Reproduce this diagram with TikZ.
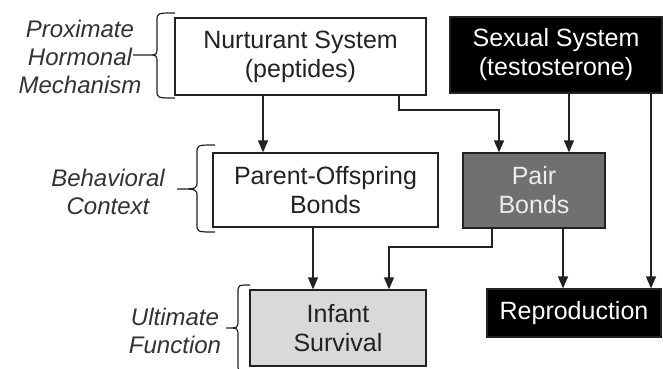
\documentclass[tikz,border=0pt]{standalone}
\usepackage{fontspec}
\setmainfont{Liberation Sans}
\usetikzlibrary{arrows.meta}
\definecolor{ink}{HTML}{222222}
\definecolor{midgray}{HTML}{707070}
\definecolor{lightgray}{HTML}{D9D9D9}
\definecolor{labelgray}{HTML}{333333}
\tikzset{
  box/.style={draw=ink, line width=1.3pt, inner sep=0pt, align=center, text=ink,
    font=\fontsize{25}{29}\selectfont},
  whitebox/.style={box, fill=white},
  blackbox/.style={box, fill=black, text=white},
  graybox/.style={box, fill=midgray, text=white!93!black},
  lightbox/.style={box, fill=lightgray},
  lbl/.style={align=center, inner sep=0pt, text=labelgray, font=\fontsize{24}{28}\selectfont\itshape},
  arr/.style={draw=ink, line width=1.3pt, -{Triangle[length=12pt,width=10pt]}},
  bracestyle/.style={draw=ink, line width=1.2pt}
}
\begin{document}
\begin{tikzpicture}[x=1pt,y=-1pt]
\useasboundingbox (0,0) rectangle (663,368);
\fill[white] (0,0) rectangle (663,368);

\node[whitebox, minimum width=251pt, minimum height=77pt] (nurt) at (300.5,56.5) {Nurturant System\\(peptides)};
\node[blackbox, minimum width=212pt, minimum height=76pt] (sex) at (556,55) {Sexual System\\(testosterone)};
\node[whitebox, minimum width=225pt, minimum height=74pt] (pob) at (325.5,190) {Parent-Offspring\\Bonds};
\node[graybox, minimum width=142pt, minimum height=75pt] (pair) at (534,190.5) {Pair\\Bonds};
\node[lightbox, minimum width=176pt, minimum height=76pt] (inf) at (338,328) {Infant\\Survival};
\node[blackbox, minimum width=174pt, minimum height=48pt] (rep) at (574,313) {Reproduction};

\node[lbl] (prox) at (80,57) {Proximate\\Hormonal\\Mechanism};
\node[lbl] (behav) at (108,192) {Behavioral\\Context};
\node[lbl] (ult) at (175,331) {Ultimate\\Function};

% braces
\draw[bracestyle] (175,13) .. controls (157,13) .. (157,21) -- (157,47) .. controls (157,55) .. (147,55) -- (133,55)
  (147,55) .. controls (157,55) .. (157,63) -- (157,90) .. controls (157,98) .. (175,98);
\draw[bracestyle] (215,145) .. controls (197,145) .. (197,153) -- (197,181) .. controls (197,189) .. (177,189)
  .. controls (197,189) .. (197,197) -- (197,224) .. controls (197,232) .. (215,232);
\draw[bracestyle] (250,285) .. controls (238,285) .. (238,293) -- (238,320) .. controls (238,328) .. (226,328)
  .. controls (238,328) .. (238,336) -- (238,364) .. controls (238,372) .. (250,372);

% connectors
\coordinate (xa) at (263,0);
\coordinate (xb) at (399,0);
\coordinate (xc) at (499,0);
\coordinate (xd) at (569,0);
\coordinate (xe) at (651,0);
\coordinate (xf) at (313,0);
\coordinate (xg) at (492,0);
\coordinate (xh) at (389,0);
\coordinate (xi) at (563,0);
\coordinate (ya) at (0,110);
\coordinate (yb) at (0,247);

\draw[arr] (xa |- nurt.south) -- (xa |- pob.north);
\draw[arr] (xb |- nurt.south) -- (xb |- ya) -- (xc |- ya) -- (xc |- pair.north);
\draw[arr] (xd |- sex.south) -- (xd |- pair.north);
\draw[arr] (xe |- sex.south) -- (xe |- rep.north);
\draw[arr] (xf |- pob.south) -- (xf |- inf.north);
\draw[arr] (xg |- pair.south) -- (xg |- yb) -- (xh |- yb) -- (xh |- inf.north);
\draw[arr] (xi |- pair.south) -- (xi |- rep.north);
\end{tikzpicture}
\end{document}
